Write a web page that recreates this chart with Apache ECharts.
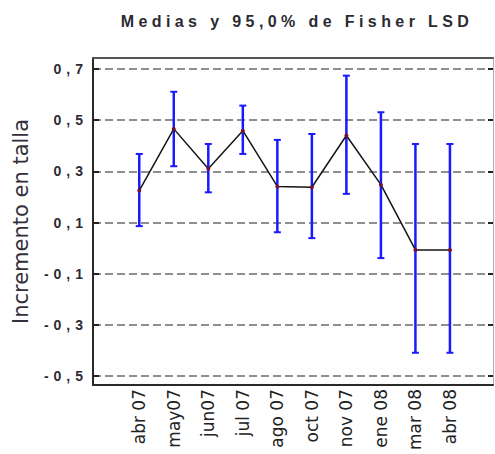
<!DOCTYPE html>
<html>
<head>
<meta charset="utf-8">
<script src="https://cdn.jsdelivr.net/npm/echarts@6/dist/echarts.min.js"></script>
<style>
  html, body { margin: 0; padding: 0; background: #fff; }
  #chart { width: 495px; height: 454px; }
  /* wide tracking for the title and the value-axis labels */
  #chart text[style*="16px"][style*="Liberation"] { letter-spacing: 4.4px; }
  #chart text[style*="14px"][style*="Liberation"] { letter-spacing: 5px; }
</style>
</head>
<body>
<div id="chart"></div>
<script>
// Sampling months
const categories = ['abr 07', 'may07', 'jun07', 'jul 07', 'ago 07', 'oct 07', 'nov 07', 'ene 08', 'mar 08', 'abr 08'];
// Group means
const means = [0.225, 0.466, 0.310, 0.459, 0.241, 0.238, 0.440, 0.248, -0.007, -0.007];
// 95% Fisher LSD interval bounds
const lower = [0.086, 0.320, 0.218, 0.368, 0.062, 0.039, 0.212, -0.039, -0.409, -0.409];
const upper = [0.368, 0.611, 0.407, 0.557, 0.423, 0.446, 0.674, 0.531, 0.407, 0.407];
// Value-axis tick positions
const yTicks = [-0.5, -0.3, -0.1, 0.1, 0.3, 0.5, 0.7];

const Y_MIN = -0.535, Y_MAX = 0.743;

const chart = echarts.init(document.getElementById('chart'), null, { renderer: 'svg' });

const fmt = v => (Math.round(v * 10) / 10).toFixed(1).replace('.', ',');

const option = {
  animation: false,
  backgroundColor: '#ffffff',
  title: {
    text: 'Medias y 95,0% de Fisher LSD',
    left: 292,
    top: 8,
    textAlign: 'center',
    textStyle: { fontFamily: 'Liberation Sans', fontWeight: 'bold', fontSize: 16, color: '#2b2b33' }
  },
  grid: [
    // frame with the value axis, grid lines and both tick rows
    { left: 93, right: 2, top: 58, bottom: 69, outerBoundsMode: 'none' },
    // data area holding the month categories
    { left: 122, width: 345.2, top: 58, bottom: 69, outerBoundsMode: 'none' }
  ],
  xAxis: [
    {
      gridIndex: 0, type: 'value', min: 0, max: 1, position: 'bottom',
      axisLine: { show: true, onZero: false, lineStyle: { color: '#2a2a2a', width: 2 } },
      axisTick: { show: false }, axisLabel: { show: false }, splitLine: { show: false }
    },
    {
      gridIndex: 0, type: 'value', min: 0, max: 1, position: 'top',
      axisLine: { show: true, onZero: false, lineStyle: { color: '#555555', width: 2 } },
      axisTick: { show: false }, axisLabel: { show: false }, splitLine: { show: false }
    },
    {
      gridIndex: 1, type: 'category', data: categories, boundaryGap: true,
      axisLine: { show: false, onZero: false }, axisTick: { show: false }, splitLine: { show: false },
      axisLabel: {
        rotate: 90, margin: 4, interval: 0,
        fontFamily: 'DejaVu Sans', fontSize: 17, color: '#222222'
      }
    }
  ],
  yAxis: [
    {
      gridIndex: 0, type: 'value', min: Y_MIN, max: Y_MAX, position: 'left',
      name: 'Incremento en talla', nameLocation: 'middle', nameGap: 62, nameRotate: 90,
      nameTextStyle: { fontFamily: 'DejaVu Sans', fontSize: 21, color: '#33303a' },
      axisLine: { show: true, onZero: false, lineStyle: { color: '#2a2a2a', width: 2 } },
      axisTick: { show: true, inside: true, length: 6, customValues: yTicks, lineStyle: { color: '#222', width: 2 } },
      axisLabel: {
        customValues: yTicks, margin: 5, formatter: fmt,
        fontFamily: 'Liberation Sans', fontWeight: 'bold', fontSize: 14, color: '#2b2b33'
      },
      splitLine: { show: true, customValues: yTicks, lineStyle: { color: '#8f8f8f', width: 2, type: [8, 4] } }
    },
    {
      gridIndex: 0, type: 'value', min: Y_MIN, max: Y_MAX, position: 'right',
      axisLine: { show: true, onZero: false, lineStyle: { color: '#b0b0b0', width: 1 } },
      axisTick: { show: true, inside: true, length: 5, customValues: yTicks, lineStyle: { color: '#222', width: 2 } },
      axisLabel: { show: false }, splitLine: { show: false }
    },
    {
      gridIndex: 1, type: 'value', min: Y_MIN, max: Y_MAX, show: false
    }
  ],
  series: [
    {
      // interval bars with end caps
      type: 'custom',
      xAxisIndex: 2, yAxisIndex: 2,
      data: categories.map((c, i) => [i, lower[i], upper[i]]),
      encode: { x: 0, y: [1, 2] },
      renderItem: function (params, api) {
        const i = api.value(0);
        const lo = api.coord([i, api.value(1)]);
        const hi = api.coord([i, api.value(2)]);
        const half = 3.5;
        const style = { stroke: '#1a1aff', lineWidth: 2.5 };
        return {
          type: 'group',
          children: [
            { type: 'line', shape: { x1: lo[0], y1: lo[1], x2: hi[0], y2: hi[1] }, style },
            { type: 'line', shape: { x1: hi[0] - half, y1: hi[1], x2: hi[0] + half, y2: hi[1] }, style: { stroke: '#1a1aff', lineWidth: 2 } },
            { type: 'line', shape: { x1: lo[0] - half, y1: lo[1], x2: lo[0] + half, y2: lo[1] }, style: { stroke: '#1a1aff', lineWidth: 2 } }
          ]
        };
      },
      z: 2
    },
    {
      type: 'line',
      xAxisIndex: 2, yAxisIndex: 2,
      data: means,
      lineStyle: { color: '#151515', width: 1.5 },
      symbol: 'circle', symbolSize: 4,
      itemStyle: { color: '#7a1030' },
      z: 3
    }
  ]
};

chart.setOption(option);
</script>
</body>
</html>
